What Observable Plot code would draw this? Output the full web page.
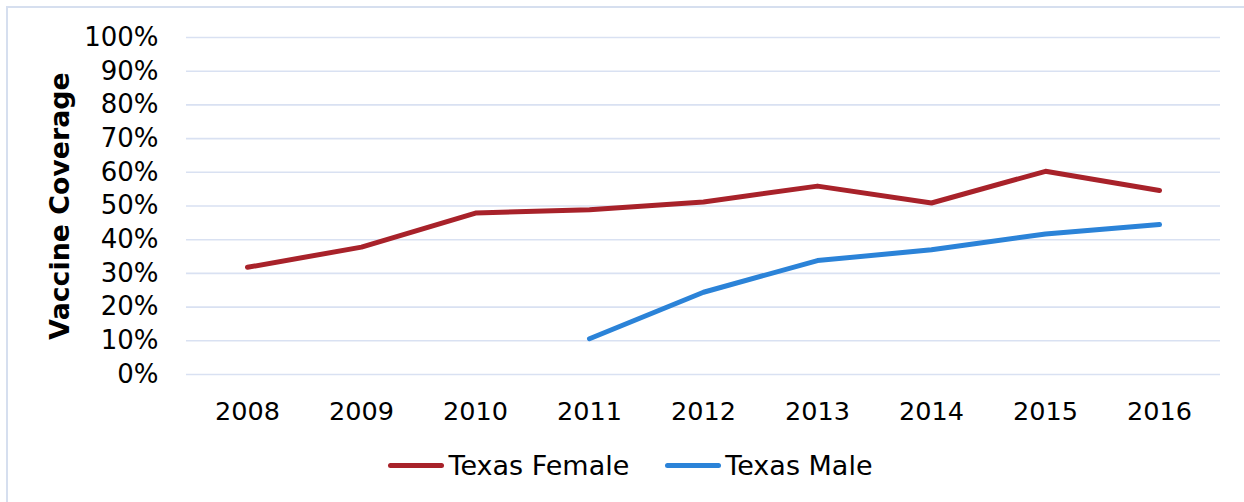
<!DOCTYPE html>
<html>
<head>
<meta charset="utf-8">
<script src="https://cdn.jsdelivr.net/npm/d3@7"></script>
<script src="https://cdn.jsdelivr.net/npm/@observablehq/plot@0.6"></script>
<style>
  html, body { margin: 0; padding: 0; background: #fff; overflow: hidden; }
  #frame { position: absolute; left: 6px; top: 6px; width: 1300px; height: 600px;
           border-left: 2px solid #D6DFEF; border-top: 2px solid #D6DFEF; box-sizing: border-box; }
  #chart { position: absolute; left: 0; top: 0; }
  #legend { position: absolute; left: 0; top: 447px; width: 1244px; height: 36px;
            display: flex; justify-content: center; align-items: center; padding-left: 17px; box-sizing: border-box;
            font-family: "DejaVu Sans", Verdana, sans-serif; font-size: 27px; color: #000; }
  .item { display: flex; align-items: center; margin: 0 18px; }
  .swatch { width: 56px; height: 5px; border-radius: 3px; margin-right: 4px; }
</style>
</head>
<body>
<div id="frame"></div>
<div id="chart"></div>
<div id="legend"></div>
<script>
const years = ["2008","2009","2010","2011","2012","2013","2014","2015","2016"];
const female = [31.8, 37.8, 47.9, 48.9, 51.2, 55.9, 50.9, 60.3, 54.6];
const male = [null, null, null, 10.6, 24.4, 33.8, 37.0, 41.7, 44.5];
const seriesNames = ["Texas Female", "Texas Male"];
const seriesColors = ["#A8222A", "#2B83D8"];
const yTicks = [0,10,20,30,40,50,60,70,80,90,100];

const rows = [];
years.forEach((yr, i) => {
  rows.push({year: yr, value: female[i], series: seriesNames[0]});
  rows.push({year: yr, value: male[i], series: seriesNames[1]});
});
const data = rows.filter(d => d.value != null);

const plot = Plot.plot({
  width: 1244,
  height: 430,
  marginLeft: 186,
  marginRight: 24,
  marginTop: 37,
  marginBottom: 56,
  style: { fontFamily: "DejaVu Sans, Verdana, sans-serif", fontSize: "26px", color: "#000", background: "transparent" },
  x: { type: "point", domain: years, padding: 0.5, label: null },
  y: { domain: [0, 100], label: null },
  color: { domain: seriesNames, range: seriesColors },
  marks: [
    Plot.gridY(yTicks, { stroke: "#D9E1F2", strokeOpacity: 1, strokeWidth: 1.6 }),
    Plot.axisY(yTicks, { tickSize: 0, tickPadding: 28, tickFormat: d => d + "%", label: null, fontSize: 26 }),
    Plot.axisX({ tickSize: 0, tickPadding: 27, label: null, fontSize: 25.5 }),
    Plot.text(["Vaccine Coverage"], { frameAnchor: "left", textAnchor: "middle", rotate: -90, dx: -126, fontWeight: "bold", fontSize: 26.8, fill: "#000" }),
    Plot.line(data, { x: "year", y: "value", z: "series", stroke: "series", strokeWidth: 5, strokeLinecap: "round", strokeLinejoin: "round" })
  ]
});
document.getElementById("chart").appendChild(plot);

const legend = document.getElementById("legend");
seriesNames.forEach((name, i) => {
  const item = document.createElement("div");
  item.className = "item";
  const sw = document.createElement("div");
  sw.className = "swatch";
  sw.style.background = seriesColors[i];
  const lab = document.createElement("span");
  lab.textContent = name;
  item.appendChild(sw);
  item.appendChild(lab);
  legend.appendChild(item);
});
</script>
</body>
</html>
